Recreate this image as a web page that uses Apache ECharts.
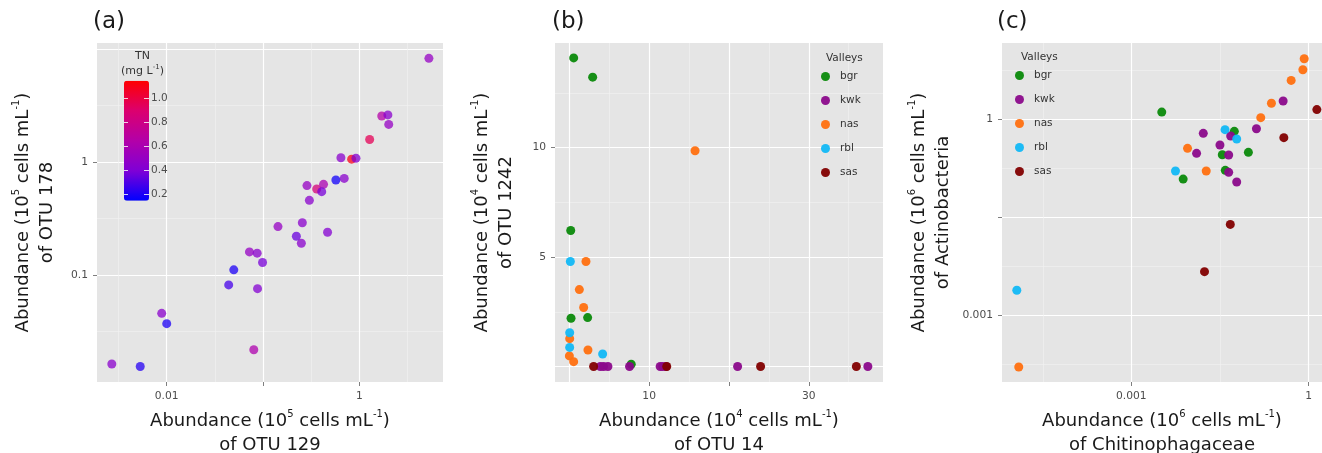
<!DOCTYPE html>
<html>
<head>
<meta charset="utf-8">
<title>Abundance scatter plots</title>
<script src="https://cdn.jsdelivr.net/npm/echarts@6.0.0/dist/echarts.min.js"></script>
<style>
  html, body { margin: 0; padding: 0; background: #fff; }
  #chart { width: 1322px; height: 453px; }
</style>
</head>
<body>
<div id="chart"></div>
<script>
// (a) OTU 129 vs OTU 178, coloured by total nitrogen
const otu129 = [5.28, 1.71, 1.98, 2.02, 1.28, 0.644, 0.832, 0.923, 0.571, 0.697, 0.286, 0.361, 0.425, 0.407, 0.303, 0.143,
  0.256, 0.222, 0.250, 0.468, 0.0723, 0.0869, 0.0989, 0.0497, 0.0440, 0.0877, 0.00887, 0.0100, 0.0802, 0.00269, 0.00531];
const otu178 = [8.26, 2.55, 2.61, 2.15, 1.58, 1.09, 1.06, 1.08, 0.693, 0.716, 0.618, 0.577, 0.634, 0.546, 0.458, 0.268,
  0.290, 0.220, 0.191, 0.239, 0.160, 0.156, 0.129, 0.111, 0.0817, 0.0757, 0.0458, 0.0371, 0.0218, 0.0163, 0.0155];
const tnValues = [0.50, 0.65, 0.45, 0.50, 0.95, 0.45, 1.10, 0.42, 0.18, 0.45, 0.50, 0.85, 0.60, 0.38, 0.45, 0.50,
  0.45, 0.35, 0.45, 0.42, 0.50, 0.45, 0.38, 0.20, 0.28, 0.42, 0.45, 0.20, 0.62, 0.45, 0.22];
const tnTicks = [0.2, 0.4, 0.6, 0.8, 1.0];

// valleys
const valleys = ['bgr', 'kwk', 'nas', 'rbl', 'sas'];
const valleyColors = ['#0b8a0b', '#8b0a8b', '#ff7010', '#12b8f5', '#820000'];

// (b) [OTU 14, OTU 1242]
const bBgr = [[0.54, 14.1], [2.92, 13.22], [0.17, 6.22], [0.21, 2.21], [2.29, 2.24], [7.75, 0.11]];
const bKwk = [[3.88, 0.01], [4.29, 0.01], [4.83, 0.01], [7.54, 0.01], [11.38, 0.01], [11.7, 0.01], [12.1, 0.01], [21.08, 0.01], [37.4, 0.01]];
const bNas = [[15.75, 9.86], [2.08, 4.80], [1.25, 3.52], [1.79, 2.70], [0.04, 1.28], [2.33, 0.76], [0.0, 0.49], [0.54, 0.23]];
const bRbl = [[0.125, 4.80], [0.04, 1.55], [0.04, 0.88], [4.17, 0.58]];
const bSas = [[3.04, 0.01], [12.2, 0.01], [23.96, 0.01], [35.96, 0.01]];

// (c) [Chitinophagaceae, Actinobacteria]
const cBgr = [[0.00327, 1.29], [0.0553, 0.656], [0.0346, 0.288], [0.0957, 0.313], [0.0389, 0.166], [0.00753, 0.122]];
const cKwk = [[0.371, 1.905], [0.131, 0.719], [0.0165, 0.611], [0.0480, 0.556], [0.0316, 0.406], [0.0127, 0.302],
  [0.0444, 0.285], [0.0444, 0.155], [0.0607, 0.110]];
const cNas = [[0.843, 8.45], [0.800, 5.74], [0.507, 3.94], [0.235, 1.76], [0.155, 1.06], [0.00893, 0.360], [0.0185, 0.162],
  [0.0000124, 0.000164]];
const cRbl = [[0.0385, 0.695], [0.0607, 0.500], [0.00558, 0.162], [0.0000115, 0.00244]];
const cSas = [[1.38, 1.41], [0.381, 0.525], [0.0473, 0.0248], [0.0173, 0.0047]];

const panelB = [bBgr, bKwk, bNas, bRbl, bSas];
const panelC = [cBgr, cKwk, cNas, cRbl, cSas];

const FONT = 'DejaVu Sans';
const lg = Math.log10;
const logLabel = v => String(Number(Math.pow(10, v).toPrecision(1)));

const richSup = { s: { fontSize: 10, lineHeight: 14, verticalAlign: 'top', color: '#1a1a1a', fontFamily: FONT } };
const nameStyle = { fontSize: 18, lineHeight: 24, color: '#1a1a1a', fontFamily: FONT, rich: richSup };

// ggplot-like axis pair: one draws the grid lines, the other the ticks, labels and title
function axisPair(pos, gridIndex, min, max, step, ticks, labels, fmt, name, gap) {
  const grid = {
    type: 'value', gridIndex: gridIndex, position: pos, min: min, max: max,
    minInterval: step, maxInterval: step, splitNumber: Math.round((max - min) / step),
    axisLine: { show: false, onZero: false }, axisTick: { show: false }, axisLabel: { show: false },
    splitLine: { show: true, showMinLine: false, showMaxLine: false, lineStyle: { color: '#ffffff', width: 1.2 } },
    minorTick: { show: false, splitNumber: 2 },
    minorSplitLine: { show: true, lineStyle: { color: '#f2f2f2', width: 0.6 } }
  };
  const text = {
    type: 'value', gridIndex: gridIndex, position: pos, min: min, max: max,
    name: name, nameLocation: 'middle', nameGap: gap, nameTextStyle: nameStyle,
    axisLine: { show: false, onZero: false },
    axisTick: { show: true, length: 4, lineStyle: { color: '#7f7f7f' }, customValues: ticks },
    axisLabel: { customValues: labels, formatter: fmt, color: '#4d4d4d', fontSize: 10.7, fontFamily: FONT, margin: 9 },
    splitLine: { show: false }, minorSplitLine: { show: false }
  };
  return [grid, text];
}

const chart = echarts.init(document.getElementById('chart'));

const series = [{
  type: 'scatter', xAxisIndex: 0, yAxisIndex: 0, symbolSize: 9,
  itemStyle: { opacity: 0.75 },
  data: otu129.map((x, i) => [lg(x), lg(otu178[i]), tnValues[i]])
}];
valleys.forEach((v, i) => {
  series.push({
    type: 'scatter', name: v, xAxisIndex: 2, yAxisIndex: 2, symbolSize: 9,
    itemStyle: { color: valleyColors[i], opacity: 0.95 },
    data: panelB[i]
  });
});
valleys.forEach((v, i) => {
  series.push({
    type: 'scatter', name: v, xAxisIndex: 4, yAxisIndex: 4, symbolSize: 9,
    itemStyle: { color: valleyColors[i], opacity: 0.95 },
    data: panelC[i].map(p => [lg(p[0]), lg(p[1])])
  });
});

const legendBase = {
  orient: 'vertical', icon: 'circle', itemWidth: 19, itemHeight: 9, itemGap: 13, padding: 0,
  selectedMode: false, data: valleys, textStyle: { fontSize: 10.5, color: '#333', fontFamily: FONT }
};
const panelTitle = { fontSize: 23, fontWeight: 'normal', color: '#1a1a1a', fontFamily: FONT };
const legendTitle = { fontSize: 10.5, fontWeight: 'normal', color: '#333', fontFamily: FONT };
const gridBase = { show: true, backgroundColor: '#e5e5e5', borderWidth: 0, outerBoundsMode: 'none', containLabel: false };

const option = {
  animation: false,
  backgroundColor: '#ffffff',
  title: [
    { text: '(a)', left: 93, top: 11, padding: 0, textStyle: panelTitle },
    { text: '(b)', left: 552, top: 11, padding: 0, textStyle: panelTitle },
    { text: '(c)', left: 997, top: 11, padding: 0, textStyle: panelTitle },
    { text: 'Valleys', left: 826, top: 53, padding: 0, textStyle: legendTitle },
    { text: 'Valleys', left: 1021, top: 52, padding: 0, textStyle: legendTitle }
  ],
  graphic: [{
    type: 'text', x: 142.5, y: 49,
    style: {
      text: 'TN\n(mg L{s|-1})', align: 'center', verticalAlign: 'top', fill: '#333',
      fontSize: 11, lineHeight: 15, fontFamily: FONT,
      rich: { s: { fontSize: 7, lineHeight: 10, verticalAlign: 'top', fill: '#333', fontFamily: FONT } }
    }
  }],
  legend: [
    Object.assign({}, legendBase, { left: 821, top: 71 }),
    Object.assign({}, legendBase, { left: 1015, top: 70 })
  ],
  visualMap: {
    type: 'continuous', seriesIndex: 0, dimension: 2, min: 0.144, max: 1.147,
    calculable: false, hoverLink: false, padding: 0, left: 124, top: 80.7,
    itemWidth: 25, itemHeight: 120, z: 4,
    inRange: { color: ['#0000ff', '#7f00d6', '#b300a8', '#dc006e', '#ff0000'] }
  },
  grid: [
    Object.assign({ left: 97, top: 43, width: 346, height: 339 }, gridBase),
    Object.assign({ left: 555, top: 43, width: 328, height: 339 }, gridBase),
    Object.assign({ left: 1002, top: 43, width: 320, height: 339 }, gridBase),
    { left: 124, top: 74.4, width: 25, height: 143.5, show: false, outerBoundsMode: 'none', containLabel: false }
  ],
  xAxis: [].concat(
    axisPair('bottom', 0, -2.724, 0.869, 1, [-2, -1, 0], [-2, 0], logLabel, 'Abundance (10{s|5} cells mL{s|-1})\nof OTU 129', 27.5),
    axisPair('bottom', 1, -1.8, 39.3, 10, [10, 20, 30], [10, 30], v => String(v), 'Abundance (10{s|4} cells mL{s|-1})\nof OTU 14', 27.5),
    axisPair('bottom', 2, -5.19, 0.227, 3, [-3, 0], [-3, 0], logLabel, 'Abundance (10{s|6} cells mL{s|-1})\nof Chitinophagaceae', 27.5),
    [{ type: 'value', gridIndex: 3, show: false, min: 0, max: 1 }]
  ),
  yAxis: [].concat(
    axisPair('left', 0, -1.947, 1.053, 1, [-1, 0], [-1, 0], logLabel, 'Abundance (10{s|5} cells mL{s|-1})\nof OTU 178', 38),
    axisPair('left', 1, -0.70, 14.78, 5, [5, 10], [5, 10], v => String(v), 'Abundance (10{s|4} cells mL{s|-1})\nof OTU 1242', 37),
    axisPair('left', 2, -4.015, 1.167, 1.5, [-3, -1.5, 0], [-3, 0], logLabel, 'Abundance (10{s|6} cells mL{s|-1})\nof Actinobacteria', 46.5),
    [{
      type: 'value', gridIndex: 3, position: 'left', min: 0, max: 1.2, interval: 0.2, z: 6,
      axisLine: { show: false, onZero: false }, splitLine: { show: false }, axisLabel: { show: false },
      axisTick: { show: true, inside: true, length: 4, lineStyle: { color: 'rgba(255,255,255,0.8)' }, customValues: tnTicks }
    }, {
      type: 'value', gridIndex: 3, position: 'right', min: 0, max: 1.2, interval: 0.2, z: 6,
      axisLine: { show: false, onZero: false }, splitLine: { show: false },
      axisTick: { show: true, inside: true, length: 5, lineStyle: { color: 'rgba(255,255,255,0.8)' }, customValues: tnTicks },
      axisLabel: { customValues: tnTicks, formatter: v => v.toFixed(1), margin: 2, color: '#4d4d4d', fontSize: 10.5, fontFamily: FONT }
    }]
  ),
  series: series
};

chart.setOption(option);
</script>
</body>
</html>
